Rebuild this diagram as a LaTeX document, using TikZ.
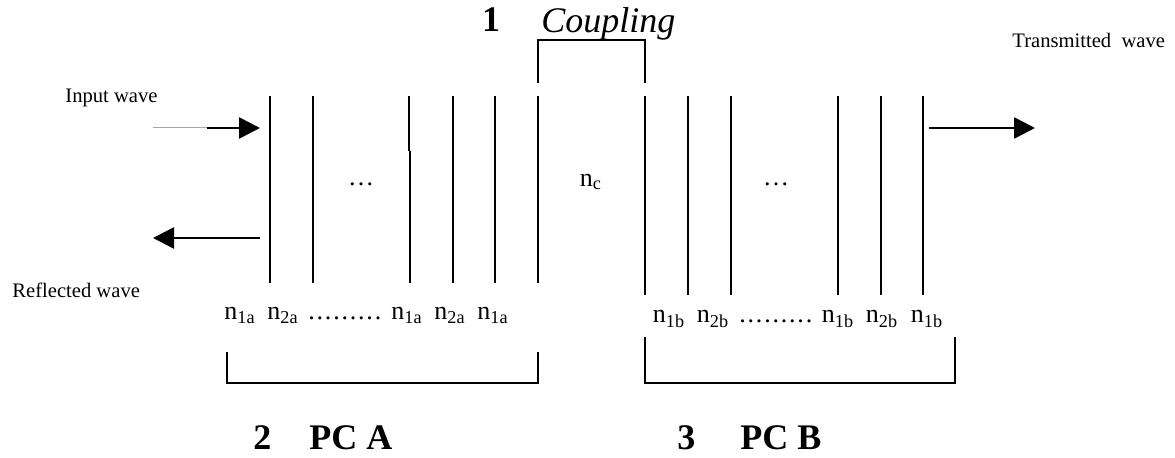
\documentclass[tikz,border=0pt]{standalone}
\usepackage{fontspec}
\setmainfont{Liberation Serif}
\usetikzlibrary{arrows.meta}

% spaced row of dots between the indices
\newcommand{\dotrow}{\foreach \k in {1,...,9}{.\kern0.9pt}}

\begin{document}
\begin{tikzpicture}[x=0.5pt,y=-0.5pt,
  layer/.style={line width=0.9pt},
  wave/.style={line width=1.3pt,-{Triangle[length=10.5pt,width=10.5pt]}},
  bracketline/.style={line width=1pt},
  smalltext/.style={font=\fontsize{10.3}{12}\selectfont,inner sep=0pt},
  idx/.style={font=\fontsize{13}{15}\selectfont,inner sep=0pt},
  heading/.style={font=\bfseries\fontsize{18}{20}\selectfont,inner sep=0pt}
]
  \useasboundingbox (0,0) rectangle (1175,458);

  % layers of crystal A
  \foreach \x [count=\i] in {270,313,410,453,495,538} {
    \coordinate (Atop\i) at (\x,96);
    \coordinate (Abot\i) at (\x,283);
  }
  \foreach \i in {1,2,4,5,6} \draw[layer] (Atop\i) -- (Abot\i);
  \coordinate (Amid3) at (410,151);
  \draw[layer] ([xshift=-0.5pt]Atop3) -- ([xshift=-0.5pt]Amid3);
  \draw[line width=0.7pt] (Amid3) -- (Abot3);

  % layers of crystal B
  \foreach \x [count=\i] in {645,688,731,838,881,923} {
    \coordinate (Btop\i) at (\x,96);
    \coordinate (Bbot\i) at (\x,295);
    \draw[layer] (Btop\i) -- (Bbot\i);
  }

  % waves
  \coordinate (inGray) at (153,128);
  \coordinate (inStart) at (207,128);
  \coordinate (inTip) at (260,128);
  \draw[gray!70,line width=0.5pt] (inGray) -- (inStart);
  \draw[wave] (inStart) -- (inTip);
  \coordinate (refStart) at (260,238);
  \coordinate (refTip) at (153,238);
  \draw[wave] (refStart) -- (refTip);
  \coordinate (trStart) at (929,128);
  \coordinate (trTip) at (1035,128);
  \draw[wave] (trStart) -- (trTip);

  \node[smalltext,anchor=west] (input) at (65,98) {Input wave};
  \node[smalltext,anchor=west] (reflected) at (12,290) {Reflected wave};
  \node[smalltext,anchor=west] (transmitted) at (1012,40) {Transmitted\ \ wave};

  % coupling bracket
  \coordinate (Cl) at (538,83);
  \coordinate (Cr) at (645,83);
  \draw[bracketline] (Cl) -- (538,40) -- (645,40) -- (Cr);
  \node[heading,anchor=base] (one) at (491,32) {1};
  \node[font=\itshape\fontsize{18}{20}\selectfont,inner sep=0pt,anchor=base west]
    (coupling) at (541,33) {Coupling};

  % indices
  \node[idx] (nc) at (591,182) {n\textsubscript{c}};
  \node[idx] (dotsA) at (361,184) {…};
  \node[idx] (dotsB) at (776,184) {…};
  \foreach \x/\t [count=\i] in {240/1a,283/2a,407/1a,450/2a,493/1a}
    \node[idx,anchor=base] (na\i) at (\x,320) {n\textsubscript{\t}};
  \node[idx,anchor=base west] (rowA) at (308,320) {\dotrow};
  \foreach \x/\t [count=\i] in {669/1b,713/2b,838/1b,882/2b,927/1b}
    \node[idx,anchor=base] (nb\i) at (\x,323) {n\textsubscript{\t}};
  \node[idx,anchor=base west] (rowB) at (739,323) {\dotrow};

  % crystal brackets
  \draw[bracketline] (227,352) -- (227,383) -- (538,383) -- (538,352);
  \draw[bracketline] (645,337) -- (645,383) -- (955,383) -- (955,337);
  \node[heading,anchor=base west] (two) at (253,450) {2};
  \node[heading,anchor=base west] (pcA) at (309,450) {PC A};
  \node[heading,anchor=base west] (three) at (677,450) {3};
  \node[heading,anchor=base west] (pcB) at (740,450) {PC B};
\end{tikzpicture}
\end{document}
